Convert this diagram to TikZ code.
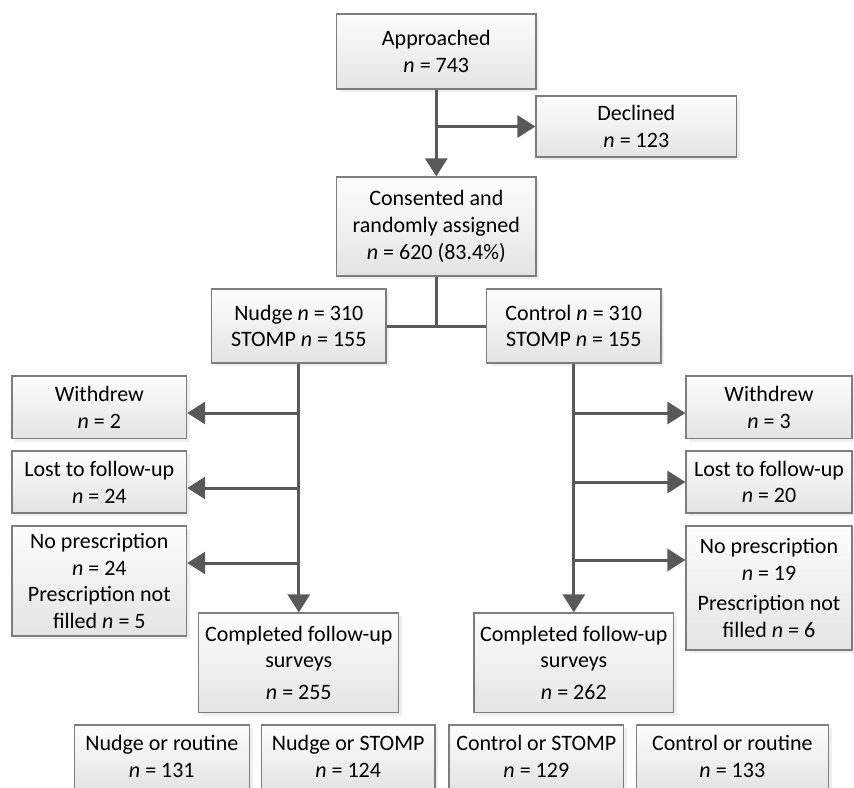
\documentclass[tikz,border=0pt]{standalone}
\usepackage{fontspec}
\setmainfont{Carlito}
\usepackage{tikz}
\usetikzlibrary{arrows.meta, shadows}
\definecolor{rahmen}{RGB}{125,125,125}
\definecolor{linie}{RGB}{89,89,89}
\definecolor{boxoben}{RGB}{253,253,253}
\definecolor{boxunten}{RGB}{228,228,228}

\begin{document}
\begin{tikzpicture}[
    x=0.5pt, y=-0.5pt,
    box/.style={
        rectangle,
        draw=rahmen,
        line width=0.6pt,
        align=center,
        inner sep=0pt,
        top color=boxoben,
        bottom color=boxunten,
        drop shadow={shadow xshift=1.6pt, shadow yshift=-1.6pt, fill=black!12},
        font=\fontsize{11pt}{13.4pt}\selectfont
    },
    line/.style={draw=linie, line width=1.5pt},
    arrow/.style={line, -{Triangle[length=9pt, width=11pt]}}
]
\clip (0,0) rectangle (854,787);
\useasboundingbox (0,0) rectangle (854,787);

% ---------------- Inclusion ----------------
\node[box, minimum width=99.6pt, minimum height=37.5pt] (appr) at (436.3,51.5) {Approached\\\textit{n} = 743};
\node[box, minimum width=100.3pt, minimum height=30.5pt] (decl) at (636.3,126.5) {Declined\\\textit{n} = 123};
\node[box, minimum width=99.6pt, minimum height=49.5pt] (cons) at (436.3,226.5) {Consented and\\randomly assigned\\\textit{n} = 620 (83.4\%)};

\draw[arrow] (appr) -- (cons);
\draw[arrow] (appr.south |- decl) -- (decl);

% ---------------- Groups ----------------
\node[box, minimum width=87.2pt, minimum height=37pt] (nudge) at (298.8,326) {Nudge \textit{n} = 310\\STOMP \textit{n} = 155};
\node[box, minimum width=87.2pt, minimum height=37pt] (ctrl) at (573.8,326) {Control \textit{n} = 310\\STOMP \textit{n} = 155};

\coordinate (split) at (cons.south |- nudge.east);
\draw[line] (cons.south) -- (split);
\draw[line] (nudge) -- (ctrl);

% ---------------- Nudge arm ----------------
\node[box, minimum width=87.3pt, minimum height=31.3pt] (withL) at (99.3,407.3) {Withdrew\\\textit{n} = 2};
\node[box, minimum width=87.3pt, minimum height=31pt] (lostL) at (99.3,482) {Lost to follow-up\\\textit{n} = 24};
\node[box, minimum width=87.3pt, minimum height=55pt] (noL) at (99.3,581) {No prescription\\\textit{n} = 24\\Prescription not\\filled \textit{n} = 5};
\node[box, minimum width=100pt, minimum height=49.8pt] (compL) at (298.8,662.8) {Completed follow-up\\surveys\\[2.5pt]\textit{n} = 255};

\coordinate (nL1) at (nudge.south |- 0,413);
\coordinate (nL2) at (nudge.south |- 0,488);
\coordinate (nL3) at (nudge.south |- 0,563);
\draw[arrow] (nudge) -- (compL);
\draw[arrow] (nL1) -- (withL.east |- nL1);
\draw[arrow] (nL2) -- (lostL.east |- nL2);
\draw[arrow] (nL3) -- (noL.east |- nL3);

% ---------------- Control arm ----------------
\node[box, minimum width=83pt, minimum height=31.3pt] (withR) at (769,407.3) {Withdrew\\\textit{n} = 3};
\node[box, minimum width=83pt, minimum height=31pt] (lostR) at (769,482) {Lost to follow-up\\\textit{n} = 20};
\node[box, minimum width=83pt, minimum height=62pt] (noR) at (769,588) {No prescription\\\textit{n} = 19\\[2pt]Prescription not\\filled \textit{n} = 6};
\node[box, minimum width=99.8pt, minimum height=49.8pt] (compR) at (573.8,662.8) {Completed follow-up\\surveys\\[2.5pt]\textit{n} = 262};

\coordinate (cR1) at (ctrl.south |- 0,413);
\coordinate (cR2) at (ctrl.south |- 0,482);
\coordinate (cR3) at (ctrl.south |- 0,560);
\draw[arrow] (ctrl) -- (compR);
\draw[arrow] (cR1) -- (withR.west |- cR1);
\draw[arrow] (cR2) -- (lostR.west |- cR2);
\draw[arrow] (cR3) -- (noR.west |- cR3);

% ---------------- Subgroups ----------------
\node[box, minimum width=87.5pt, minimum height=31.6pt] (nr) at (161.8,756.5) {Nudge or routine\\\textit{n} = 131};
\node[box, minimum width=86.8pt, minimum height=31.6pt] (ns) at (348.2,756.5) {Nudge or STOMP\\\textit{n} = 124};
\node[box, minimum width=87.3pt, minimum height=31.6pt] (cs) at (536.3,756.5) {Control or STOMP\\\textit{n} = 129};
\node[box, minimum width=96pt, minimum height=31.6pt] (cr) at (732.3,756.5) {Control or routine\\\textit{n} = 133};

\end{tikzpicture}
\end{document}
